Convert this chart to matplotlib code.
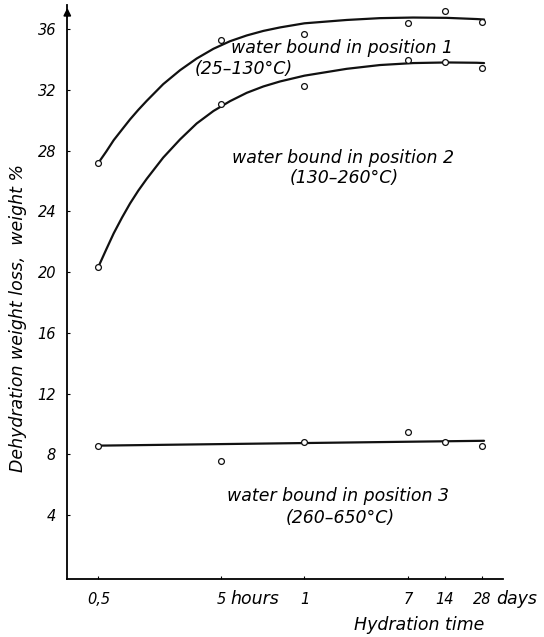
import matplotlib
matplotlib.use("Agg")
import matplotlib.pyplot as plt

# measured points, hydration time in hours
hours = [0.5, 5, 24, 168, 336, 672]
pos1 = [27.2, 35.3, 35.7, 36.4, 37.2, 36.5]
pos2 = [20.35, 31.1, 32.3, 34.0, 33.85, 33.45]
pos3 = [8.55, 7.55, 8.8, 9.45, 8.8, 8.55]

# hand-drawn trend curves
fit1_hours = [0.5, 0.58, 0.667, 0.78, 0.907, 1.06, 1.24, 1.69, 2.32, 3.17,
              4.34, 5.93, 8.12, 11.1, 15.2, 24, 53, 99, 185, 347, 610, 700]
fit1 = [27.2, 27.95, 28.7, 29.4, 30.07, 30.7, 31.29, 32.39, 33.31, 34.08,
        34.72, 35.22, 35.6, 35.9, 36.13, 36.4, 36.62, 36.74, 36.78, 36.76,
        36.68, 36.65]
fit2_hours = [0.5, 0.58, 0.667, 0.78, 0.907, 1.06, 1.24, 1.69, 2.32, 3.17,
              4.34, 5.93, 8.12, 11.1, 15.2, 24, 53, 99, 185, 347, 610, 700]
fit2 = [20.35, 21.5, 22.56, 23.6, 24.53, 25.38, 26.15, 27.55, 28.75, 29.8,
        30.62, 31.27, 31.82, 32.24, 32.57, 32.95, 33.4, 33.65, 33.78, 33.82,
        33.8, 33.78]
fit3_hours = [0.5, 700]
fit3 = [8.57, 8.89]

tick_hours = [0.5, 5, 24, 168, 336, 672]
tick_labels = ["0,5", "5", "1", "7", "14", "28"]

plt.rcParams["font.family"] = "DejaVu Sans"
plt.rcParams["font.style"] = "italic"
plt.rcParams["font.size"] = 10.5
TXT = 12.5

fig = plt.figure(figsize=(5.44, 6.37), dpi=100)
ax = fig.add_axes([0.1237, 0.091, 0.8015, 0.901])

ax.set_xscale("log")
ax.set_xlim(0.279, 1005)
ax.set_ylim(-0.22, 37.6)

for fx, fy in [(fit1_hours, fit1), (fit2_hours, fit2), (fit3_hours, fit3)]:
    ax.plot(fx, fy, color="#111111", lw=1.6, solid_capstyle="round",
            solid_joinstyle="round", zorder=2)
for ys in (pos1, pos2, pos3):
    ax.plot(hours, ys, ls="none", marker="o", ms=4.2, mfc="white",
            mec="#111111", mew=0.9, zorder=3)

ax.spines["top"].set_visible(False)
ax.spines["right"].set_visible(False)
ax.spines["left"].set_linewidth(1.3)
ax.spines["bottom"].set_linewidth(1.3)

ax.set_yticks([4, 8, 12, 16, 20, 24, 28, 32, 36])
ax.set_xticks(tick_hours, tick_labels)
ax.minorticks_off()
ax.tick_params(axis="both", direction="in", length=2.5, width=0.8)
ax.tick_params(axis="y", pad=8)
ax.tick_params(axis="x", pad=9)

ax.annotate("", xy=(0, 1.0), xycoords="axes fraction", xytext=(0, 0.975),
            arrowprops=dict(arrowstyle="-|>", color="k", lw=1.2,
                            mutation_scale=11))

ax.annotate("hours", xy=(5, 0), xycoords=("data", "axes fraction"),
            xytext=(6.5, -14.2), textcoords="offset points",
            ha="left", va="center", fontsize=TXT)
ax.annotate("days", xy=(672, 0), xycoords=("data", "axes fraction"),
            xytext=(10.5, -14.2), textcoords="offset points",
            ha="left", va="center", fontsize=TXT)

ax.set_ylabel("Dehydration weight loss,  weight %", fontsize=TXT)
ax.yaxis.set_label_coords(-0.092, 0.455)
ax.set_xlabel("Hydration time", fontsize=TXT)
ax.xaxis.set_label_coords(0.807, -0.0645)

# curve annotations: x in axes fraction, y in data units
tr = ax.get_yaxis_transform()
ax.text(0.631, 34.75, "water bound in position 1", transform=tr,
        ha="center", va="center", fontsize=TXT)
ax.text(0.293, 33.38, "(25\u2013130\u00b0C)", transform=tr,
        ha="left", va="center", fontsize=TXT)
ax.text(0.632, 27.5, "water bound in position 2", transform=tr,
        ha="center", va="center", fontsize=TXT)
ax.text(0.635, 26.2, "(130\u2013260\u00b0C)", transform=tr,
        ha="center", va="center", fontsize=TXT)
ax.text(0.621, 5.28, "water bound in position 3", transform=tr,
        ha="center", va="center", fontsize=TXT)
ax.text(0.625, 3.78, "(260\u2013650\u00b0C)", transform=tr,
        ha="center", va="center", fontsize=TXT)

fig.savefig("out.png", dpi=100)
